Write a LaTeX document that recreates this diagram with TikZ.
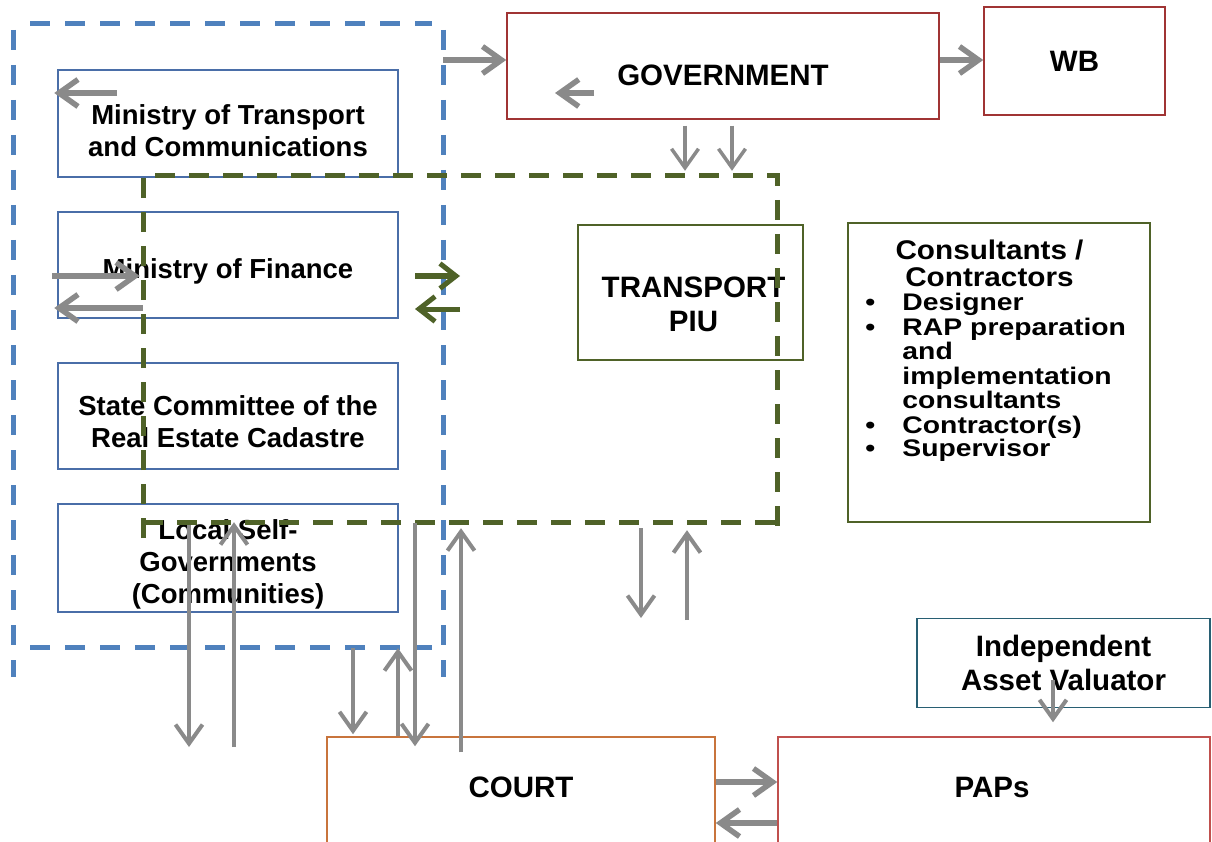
\documentclass[tikz,border=0pt]{standalone}
\usepackage{fontspec}
\setmainfont{Liberation Sans}
\newfontfamily\consfont[FakeStretch=1.1]{Liberation Sans}
\newfontfamily\itemfont[FakeStretch=1.18]{Liberation Sans}
\usetikzlibrary{arrows.meta,positioning}

\definecolor{minblue}{RGB}{74,110,168}
\definecolor{dashblue}{RGB}{79,129,189}
\definecolor{piugreen}{RGB}{79,98,40}
\definecolor{govred}{RGB}{160,52,52}
\definecolor{papred}{RGB}{192,80,77}
\definecolor{courtorange}{RGB}{200,116,60}
\definecolor{valteal}{RGB}{40,95,115}
\definecolor{arrowgray}{RGB}{138,138,138}

\tikzset{
	box/.style={draw, line width=1.5pt, inner sep=0pt, align=center},
	minbox/.style={box, draw=minblue, minimum width=340pt, minimum height=107pt},
	mintext/.style={align=center, yshift=-6pt, font=\fontsize{27.5}{32}\selectfont\bfseries},
	bigtext/.style={align=center, font=\fontsize{29.5}{34.5}\selectfont\bfseries},
	bigbox/.style={box, bigtext},
	frame/.style={inner sep=0pt},
	bluedash/.style={draw=dashblue, line width=5pt, dash pattern=on 20pt off 15pt},
	greendash/.style={draw=piugreen, line width=5pt, dash pattern=on 20pt off 14pt},
	garrow/.style={draw=arrowgray, line width=4pt, -{Straight Barb[length=19pt,width=27pt]}},
	thickarrow/.style={garrow, line width=5.5pt},
	greenarrow/.style={draw=piugreen, line width=5pt, -{Straight Barb[length=16pt,width=25pt]}},
	constxt/.style={inner sep=0pt, text width=248pt, align=left}
}

\begin{document}
\begin{tikzpicture}[x=1pt, y=-1pt]
	\useasboundingbox (0,0) rectangle (1212,842);
	\clip (0,0) rectangle (1212,842);
	
	% ministries
	\node[minbox, label={[mintext, yshift=-1pt]center:{Ministry of Transport\\and Communications}}] (mtc) at (228,123.5) {};
	\node[minbox, minimum height=106pt, label={[mintext]center:Ministry of Finance}] (mof) at (228,265) {};
	\node[minbox, minimum height=106pt, label={[mintext]center:{State Committee of the\\Real Estate Cadastre}}] (sc) at (228,416) {};
	\node[minbox, minimum height=108pt, label={[mintext]center:{Local Self-\\Governments\\(Communities)}}] (lsg) at (228,558) {};
	
	% top row
	\node[bigbox, draw=govred, minimum width=432pt, minimum height=106pt,
		label={[bigtext, yshift=-9pt]center:GOVERNMENT}] (gov) at (723,66) {};
	\node[bigbox, draw=govred, minimum width=181pt, minimum height=108pt] (wb) at (1074.5,61) {WB};
	
	% piu and consultants
	\node[bigbox, draw=piugreen, minimum width=225pt, minimum height=135pt,
		label={[bigtext, xshift=3pt, yshift=-12pt]center:{TRANSPORT\\PIU}}] (piu) at (690.5,292.5) {};
	\node[box, draw=piugreen, minimum width=302pt, minimum height=299pt] (cons) at (999,372.5) {};
	\node[constxt, below right=17pt and 18pt of cons.north west] (constxt) {%
		{\centering\consfont\fontsize{27}{27}\selectfont\bfseries Consultants\hspace{8pt}/\\Contractors\par}
		\itemfont\fontsize{24}{24.5}\selectfont\bfseries
		\makebox[37pt][l]{\textbullet}Designer\\
		\makebox[37pt][l]{\textbullet}\mbox{RAP\hspace{8pt}preparation}\\
		\hspace*{37pt}and\\
		\hspace*{37pt}implementation\\
		\hspace*{37pt}consultants\\
		\makebox[37pt][l]{\textbullet}Contractor(s)\\
		\makebox[37pt][l]{\textbullet}Supervisor};
	
	% bottom row
	\node[bigbox, draw=valteal, minimum width=293pt, minimum height=89pt] (iav) at (1063.5,663) {Independent\\Asset Valuator};
	\node[bigbox, draw=courtorange, minimum width=388pt, minimum height=130pt,
		label={[bigtext, yshift=15pt]center:COURT}] (court) at (521,802) {};
	\node[bigbox, draw=papred, minimum width=432pt, minimum height=130pt,
		label={[bigtext, xshift=-2pt, yshift=15pt]center:PAPs}] (paps) at (994,802) {};
	
	% dashed groups
	\node[frame, minimum width=430pt, minimum height=623pt] (grpmin) at (228,335.5) {};
	\node[frame, minimum width=634pt, minimum height=346pt] (grppiu) at (460,349) {};
	\draw[bluedash] (13,30) -- (13,677);
	\draw[bluedash] (443,30) -- (443,677);
	\draw[bluedash] (30,24) -- (432,24);
	\draw[bluedash] (30,647) -- (432,647);
	\draw[greendash] (143,538) -- (143,176) -- (777,176) -- (777,538);
	\draw[greendash] (143,522) -- (777,522);
	
	% free arrow ends
	\coordinate (mtcin) at (117,93);
	\coordinate (govin) at (594,93);
	\coordinate (govout) at (555,93);
	\coordinate (gin) at (415,276);
	\coordinate (gout) at (460,276);
	\coordinate (gin2) at (460,309);
	\coordinate (gout2) at (415,309);
	\coordinate (lowa) at (189,747);
	\coordinate (lowb) at (234,747);
	\coordinate (piuend) at (641,618);
	\coordinate (piustart) at (687,620);
	\coordinate (iavin) at (1053,680);
	
	% arrows
	\draw[thickarrow] (grpmin.east |- 0,60) -- (gov.west |- 0,60);
	\draw[thickarrow] (gov.east |- 0,60) -- (wb.west |- 0,60);
	\draw[thickarrow, shorten >=-3pt] (mtcin) -- (mtc.west |- mtcin);
	\draw[thickarrow] (govin) -- (govout);
	\draw[garrow, line width=3.5pt, shorten <=6pt, shorten >=5pt] (gov.south -| 685,0) -- (grppiu.north -| 685,0);
	\draw[garrow, line width=3.5pt, shorten <=6pt, shorten >=5pt] (gov.south -| 732,0) -- (grppiu.north -| 732,0);
	\draw[thickarrow, shorten <=-5pt, shorten >=3pt] (mof.west |- 0,276) -- (grppiu.west |- 0,276);
	\draw[thickarrow, shorten >=-3pt] (grppiu.west |- 0,308) -- (mof.west |- 0,308);
	\draw[greenarrow] (gin) -- (gout);
	\draw[greenarrow] (gin2) -- (gout2);
	\draw[garrow, shorten <=3pt] (grppiu.south -| lowa) -- (lowa);
	\draw[garrow] (lowb) -- (grppiu.south -| lowb);
	\draw[garrow, shorten <=1pt, shorten >=2pt] (grpmin.south -| 353,0) -- (court.north -| 353,0);
	\draw[garrow, shorten >=1pt] (court.north -| 398,0) -- (grpmin.south -| 398,0);
	\draw[garrow, shorten <=1pt, shorten >=-10pt] (grppiu.south -| 415,0) -- (court.north -| 415,0);
	\draw[garrow, shorten <=-16pt, shorten >=6pt] (court.north -| 461,0) -- (grppiu.south -| 461,0);
	\draw[garrow, shorten <=6pt] (grppiu.south -| piuend) -- (piuend);
	\draw[garrow, shorten >=8pt] (piustart) -- (grppiu.south -| piustart);
	\draw[garrow, shorten >=14pt] (iavin) -- (paps.north -| iavin);
	\draw[thickarrow] (court.east |- 0,782) -- (paps.west |- 0,782);
	\draw[thickarrow] (paps.west |- 0,823) -- (court.east |- 0,823);
\end{tikzpicture}
\end{document}
